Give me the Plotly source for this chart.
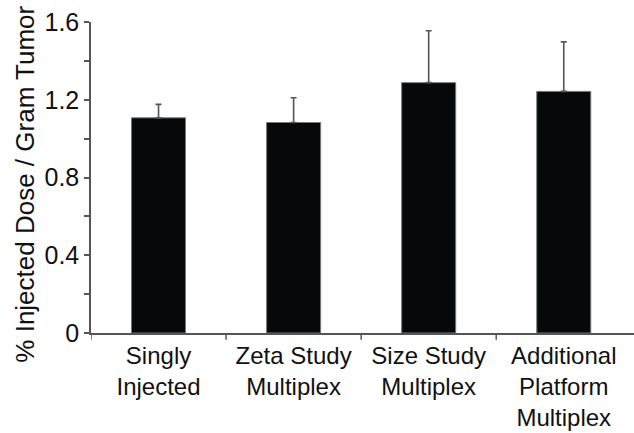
import plotly.graph_objects as go

# Tumor uptake per formulation
categories = ["Singly<br>Injected", "Zeta Study<br>Multiplex", "Size Study<br>Multiplex",
              "Additional<br>Platform<br>Multiplex"]
uptake = [1.107, 1.083, 1.288, 1.243]
upper_error = [0.069, 0.127, 0.267, 0.255]

y_ticks = [0, 0.4, 0.8, 1.2, 1.6]
y_tick_text = ["0", "0.4", "0.8", "1.2", "1.6"]

font_family = "Liberation Sans, Arial, sans-serif"
axis_color = "#555555"

fig = go.Figure(
    go.Bar(
        x=list(range(len(categories))),
        y=uptake,
        width=0.4,
        marker=dict(color="#07080a", line=dict(color="#777777", width=1)),
        error_y=dict(
            type="data",
            symmetric=False,
            array=upper_error,
            arrayminus=[0] * len(uptake),
            color="#555555",
            thickness=1.6,
            width=3,
        ),
    )
)

fig.update_layout(
    width=634,
    height=433,
    margin=dict(l=91, r=0, t=22, b=100),
    paper_bgcolor="white",
    plot_bgcolor="white",
    showlegend=False,
    font=dict(family=font_family, size=25, color="#111111"),
)

fig.update_xaxes(
    range=[-0.5, 3.52],
    tickmode="array",
    tickvals=list(range(len(categories))),
    ticktext=categories,
    showline=True,
    linecolor=axis_color,
    linewidth=1.5,
    showgrid=False,
    zeroline=False,
    ticks="",
    tickfont=dict(size=24),
    automargin=False,
)

# category boundary ticks below the x axis
for b in [-0.5, 0.5, 1.5, 2.5]:
    fig.add_shape(type="line", xref="x", yref="paper", x0=b, x1=b, y0=0, y1=-0.022,
                  line=dict(color=axis_color, width=1.5))

fig.update_yaxes(
    range=[0, 1.6],
    tickmode="array",
    tickvals=y_ticks,
    ticktext=y_tick_text,
    ticks="outside",
    ticklen=5,
    tickwidth=1.5,
    tickcolor=axis_color,
    minor=dict(tickmode="array", tickvals=[0.2, 0.6, 1.0, 1.4], ticks="outside",
               ticklen=5, tickwidth=1.5, tickcolor=axis_color),
    showline=True,
    linecolor=axis_color,
    linewidth=1.5,
    showgrid=False,
    zeroline=False,
    tickfont=dict(size=25),
    automargin=False,
)

fig.add_annotation(
    text="% Injected Dose / Gram Tumor",
    xref="paper", yref="y",
    x=(25 - 91) / 543, y=0.763,
    xanchor="center", yanchor="middle",
    textangle=-90,
    showarrow=False,
    font=dict(size=26, color="#111111"),
)

fig.write_html("out.html")
